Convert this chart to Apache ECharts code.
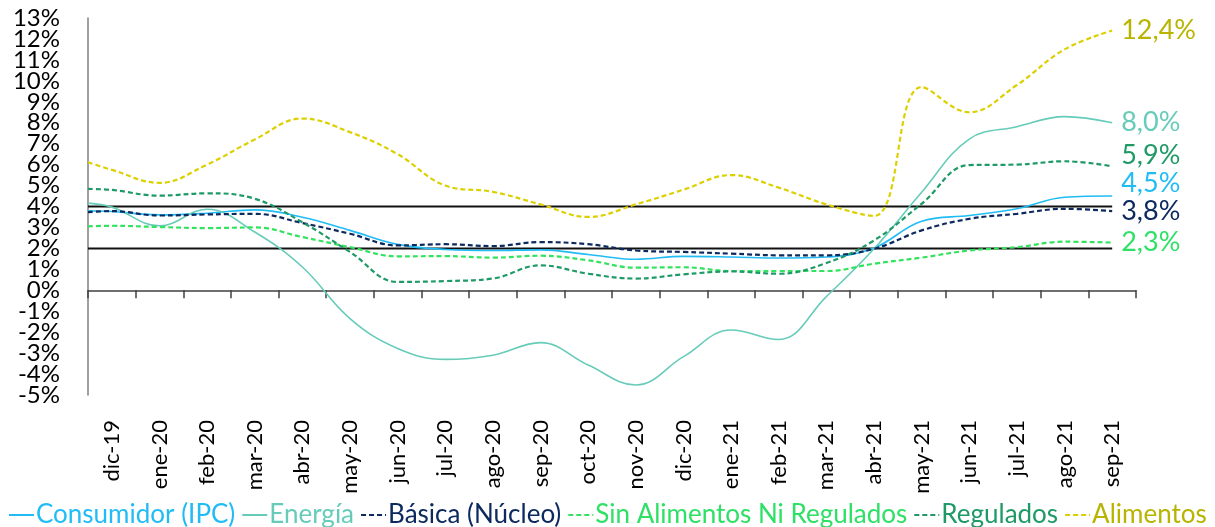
<!DOCTYPE html>
<html>
<head>
<meta charset="utf-8">
<script src="https://cdn.jsdelivr.net/npm/echarts@6/dist/echarts.min.js"></script>
<style>
html, body { margin: 0; padding: 0; background: #fff; }
#main { width: 1215px; height: 527px; }
</style>
</head>
<body>
<div id="main"></div>
<script>
var meses = ['dic-19', 'ene-20', 'feb-20', 'mar-20', 'abr-20', 'may-20', 'jun-20', 'jul-20', 'ago-20', 'sep-20', 'oct-20',
    'nov-20', 'dic-20', 'ene-21', 'feb-21', 'mar-21', 'abr-21', 'may-21', 'jun-21', 'jul-21', 'ago-21', 'sep-21'];

var ipc       = [3.76, 3.6, 3.68, 3.84, 3.49, 2.86, 2.19, 1.95, 1.9, 1.93, 1.71, 1.48, 1.62, 1.59, 1.54, 1.59, 2.02, 3.3, 3.57, 3.89, 4.44, 4.5];
var energia   = [3.97, 3.08, 3.87, 2.78, 1.11, -1.35, -2.78, -3.3, -3.1, -2.5, -3.57, -4.52, -3.17, -1.9, -2.35, -0.3, 1.98, 4.68, 7.22, 7.81, 8.29, 8.0];
var basica    = [3.78, 3.57, 3.62, 3.65, 3.21, 2.7, 2.14, 2.2, 2.11, 2.3, 2.2, 1.9, 1.83, 1.75, 1.67, 1.67, 1.98, 2.86, 3.41, 3.65, 3.89, 3.78];
var sinAlim   = [3.08, 3.02, 2.97, 3.0, 2.54, 2.06, 1.62, 1.63, 1.56, 1.65, 1.43, 1.08, 1.1, 0.92, 0.92, 0.92, 1.27, 1.56, 1.9, 2.06, 2.32, 2.28];
var regulados = [4.79, 4.52, 4.63, 4.37, 3.25, 1.83, 0.4, 0.44, 0.56, 1.19, 0.79, 0.56, 0.76, 0.9, 0.79, 1.3, 2.38, 4.13, 5.98, 6.0, 6.16, 5.92];
var alimentos = [5.75, 5.13, 6.0, 7.2, 8.2, 7.55, 6.5, 5.0, 4.7, 4.1, 3.5, 4.1, 4.8, 5.5, 4.9, 4.1, 3.55, 9.7, 8.5, 9.8, 11.5, 12.4];

// value where each line meets the y axis (left edge of the plot)
var valorEnEje = [3.8, 4.16, 3.73, 3.05, 4.84, 6.11];

// target range lines
var metaInf = 2;
var metaSup = 4;

// y tick labels, split in two sets so the big labels are not dropped as overlapping
var yImpares = [-5, -3, -1, 1, 3, 5, 7, 9, 11, 13];
var yPares = [-4, -2, 0, 2, 4, 6, 8, 10, 12];

var nombres = ['Consumidor (IPC)', 'Energía', 'Básica (Núcleo)', 'Sin Alimentos Ni Regulados', 'Regulados', 'Alimentos'];
var datos = [ipc, energia, basica, sinAlim, regulados, alimentos];
var colores = ['#22bcf5', '#66ccb9', '#0c2a60', '#33e25e', '#1f9a66', '#ddd000'];
var coloresTexto = ['#22bcf5', '#66ccb9', '#0c2a60', '#2ee066', '#1f9a66', '#b8b400'];
var discontinua = [false, false, true, true, true, true];
var desplazamiento = [[0, -13], [0, 0], [0, 0], [0, 0], [0, -11], [0, 0]];

var FONT = 'Lato';

function puntos(arr, borde) {
    var out = [[-0.5, borde]];
    arr.forEach(function (v, i) { out.push([i, v]); });
    return out;
}

function ejeY(valores, conLinea) {
    return {
        type: 'value',
        position: 'left',
        min: -5,
        max: 13,
        splitLine: { show: false },
        axisTick: { show: false },
        axisLine: { show: conLinea, onZero: false, lineStyle: { color: '#808080', width: 1.5 } },
        axisLabel: {
            customValues: valores,
            margin: 28,
            color: '#000',
            fontFamily: FONT,
            fontSize: 24,
            formatter: '{value}%'
        }
    };
}

var myChart = echarts.init(document.getElementById('main'));

var series = [];
[metaSup, metaInf].forEach(function (m) {
    series.push({
        type: 'line',
        xAxisIndex: 2,
        data: [[-0.5, m], [meses.length - 1, m]],
        symbol: 'none',
        silent: true,
        lineStyle: { color: '#111', width: 2 }
    });
});

nombres.forEach(function (n, k) {
    series.push({
        name: n,
        type: 'line',
        xAxisIndex: 2,
        data: puntos(datos[k], valorEnEje[k]),
        smooth: 0.4,
        symbol: 'none',
        clip: true,
        color: colores[k],
        lineStyle: {
            color: colores[k],
            width: discontinua[k] ? 2.2 : 1.6,
            type: discontinua[k] ? [5, 3] : 'solid'
        },
        endLabel: {
            show: true,
            distance: 9,
            offset: desplazamiento[k],
            color: coloresTexto[k],
            fontFamily: FONT,
            fontSize: 27,
            formatter: function (p) {
                return p.value[1].toFixed(1).replace('.', ',') + '%';
            }
        }
    });
});

option = {
    animation: false,
    backgroundColor: '#fff',
    grid: { left: 88, right: 79, top: 18, bottom: 132 },
    legend: {
        left: 3,
        top: 497,
        itemWidth: 25,
        itemHeight: 14,
        itemGap: 6,
        itemStyle: { opacity: 0, borderWidth: 0 },
        lineStyle: { width: 2 },
        textStyle: { fontFamily: FONT, fontSize: 26, padding: [0, 0, 0, -3] },
        data: nombres.map(function (n, k) {
            return { name: n, textStyle: { color: coloresTexto[k] } };
        })
    },
    xAxis: [{
        type: 'category',
        data: meses,
        position: 'bottom',
        boundaryGap: true,
        axisLine: { show: false, onZero: false },
        axisTick: { show: false },
        axisLabel: {
            interval: 0,
            rotate: 90,
            margin: 25,
            color: '#000',
            fontFamily: FONT,
            fontSize: 22
        }
    }, {
        type: 'category',
        data: meses,
        position: 'top',
        boundaryGap: true,
        axisLine: { show: true, onZero: true, lineStyle: { color: '#404040', width: 1.5 } },
        axisTick: { show: true, interval: 0, inside: true, length: 8, lineStyle: { color: '#404040', width: 1.5 } },
        axisLabel: { show: false }
    }, {
        type: 'value',
        min: -0.5,
        max: meses.length - 0.5,
        show: false
    }],
    yAxis: [ejeY(yImpares, true), ejeY(yPares, false)],
    series: series
};

myChart.setOption(option);
</script>
</body>
</html>
